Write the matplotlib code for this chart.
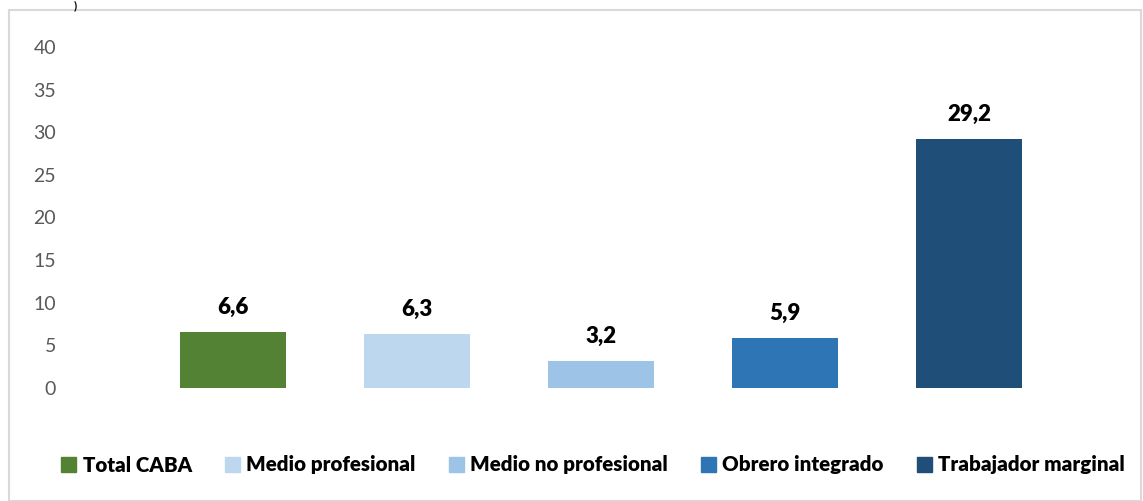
import matplotlib
matplotlib.use('Agg')
import matplotlib.pyplot as plt
from matplotlib.patches import Rectangle, Patch

categorias = ['Total CABA', 'Medio profesional', 'Medio no profesional',
              'Obrero integrado', 'Trabajador marginal']
valores = [6.6, 6.3, 3.2, 5.9, 29.2]
etiquetas = ['6,6', '6,3', '3,2', '5,9', '29,2']
colores = ['#548235', '#BDD7EE', '#9DC3E6', '#2E75B6', '#1F4E79']
yticks = [0, 5, 10, 15, 20, 25, 30, 35, 40]

plt.rcParams['font.family'] = ['Lato', 'DejaVu Sans']

W, H = 1143, 501
fig = plt.figure(figsize=(W / 100, H / 100), dpi=100)

# marco gris del grafico
fig.patches.append(Rectangle((9 / W, 0), (1141 - 9) / W, (H - 10) / H,
                             transform=fig.transFigure, fill=False,
                             edgecolor='#D9D9D9', linewidth=1.5))
# resto del titulo que queda arriba
fig.text(75 / W, 1.0, ')', ha='center', va='top', fontsize=8,
         fontweight='bold')

left_px, right_px = 70, 1130
ax = fig.add_axes([left_px / W, (H - 388) / H, (right_px - left_px) / W, 341 / H])
x = list(range(len(categorias)))
bars = ax.bar(x, valores, width=0.58, color=colores)
ax.set_xlim((left_px - 233) / 184, (right_px - 233) / 184)
ax.set_ylim(0, 40)
ax.set_yticks(yticks)
ax.set_xticks([])
ax.tick_params(axis='y', length=0, pad=10, labelsize=14, labelcolor='#595959')
for s in ax.spines.values():
    s.set_visible(False)
ax.patch.set_alpha(0)

for b, lab in zip(bars, etiquetas):
    ax.annotate(lab, (b.get_x() + b.get_width() / 2, b.get_height()),
                xytext=(0, 10), textcoords='offset points', ha='center',
                va='bottom', fontsize=16, fontweight='heavy')

handles = [Patch(color=c) for c in colores]
fig.legend(handles, categorias, loc='center', bbox_to_anchor=(593 / W, (H - 465) / H),
           ncol=5, frameon=False, handlelength=0.75, handleheight=0.75,
           handletextpad=0.3, columnspacing=1.6,
           prop={'weight': 'heavy', 'size': 14.8})

fig.savefig('out.png', dpi=100)
